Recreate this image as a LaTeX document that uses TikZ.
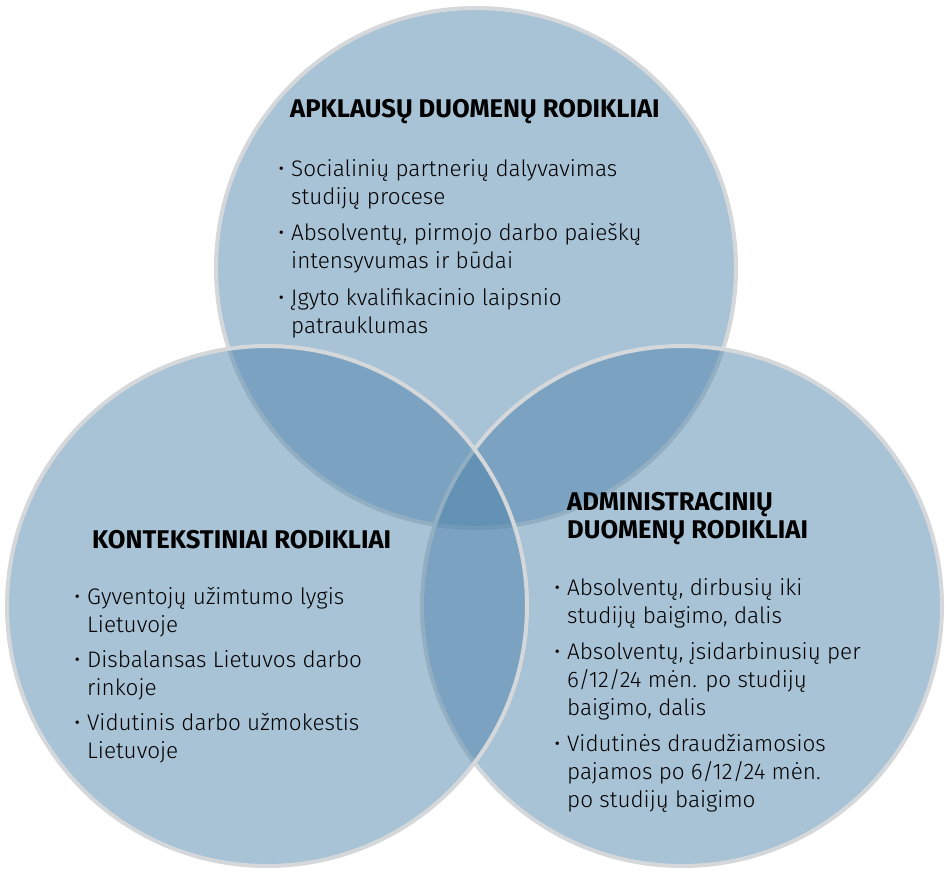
\documentclass[tikz,border=0pt]{standalone}
\usepackage{fontspec}
\setmainfont{Fira Sans Light}[BoldFont={Fira Sans Bold}]
\begin{document}
\begin{tikzpicture}[x=1pt,y=-1pt,
  venn/.style={fill={rgb,255:red,75;green,129;blue,170}, fill opacity=0.48,
     draw={rgb,255:red,213;green,216;blue,219}, draw opacity=1, line width=4pt},
  head/.style={anchor=base west, inner sep=0pt, align=left, font=\fontsize{25.6}{28}\selectfont\bfseries, text=black},
  item/.style={anchor=base west, inner sep=0pt, align=left, font=\fontsize{22.5}{28}\selectfont, text=black}]
\useasboundingbox (0,0) rectangle (946,873);
\fill[white] (0,0) rectangle (946,873);
\path[venn] (476,268) circle[radius=260];
\path[venn] (682,606) circle[radius=260];
\path[venn] (267,606) circle[radius=260];
\newcommand\bl{\makebox[13pt][l]{•}}
\newcommand\ind{\hspace*{13pt}}
% top (anchors at last line baseline)
\node[head] (th) at (290,117) {APKLAUSŲ DUOMENŲ RODIKLIAI};
\node[item] (t1) at (278,204) {\bl Socialinių partnerių dalyvavimas\\\ind studijų procese};
\node[item] (t2) at (278,268) {\bl Absolventų, pirmojo darbo paieškų\\\ind intensyvumas ir būdai};
\node[item] (t3) at (278,333) {\bl Įgyto kvalifikacinio laipsnio\\\ind patrauklumas};
% left
\node[head] (lh) at (92,548) {KONTEKSTINIAI RODIKLIAI};
\node[item] (l1) at (74,632) {\bl Gyventojų užimtumo lygis\\\ind Lietuvoje};
\node[item] (l2) at (74,695) {\bl Disbalansas Lietuvos darbo\\\ind rinkoje};
\node[item] (l3) at (74,758) {\bl Vidutinis darbo užmokestis\\\ind Lietuvoje};
% right
\node[head] (rh) at (567,538) {ADMINISTRACINIŲ\\DUOMENŲ RODIKLIAI};
\node[item] (r1) at (554,623) {\bl Absolventų, dirbusių iki\\\ind studijų baigimo, dalis};
\node[item] (r2) at (554,715) {\bl Absolventų, įsidarbinusių per\\\ind 6/12/24 mėn. po studijų\\\ind baigimo, dalis};
\node[item] (r3) at (554,807) {\bl Vidutinės draudžiamosios\\\ind pajamos po 6/12/24 mėn.\\\ind po studijų baigimo};
\end{tikzpicture}
\end{document}
